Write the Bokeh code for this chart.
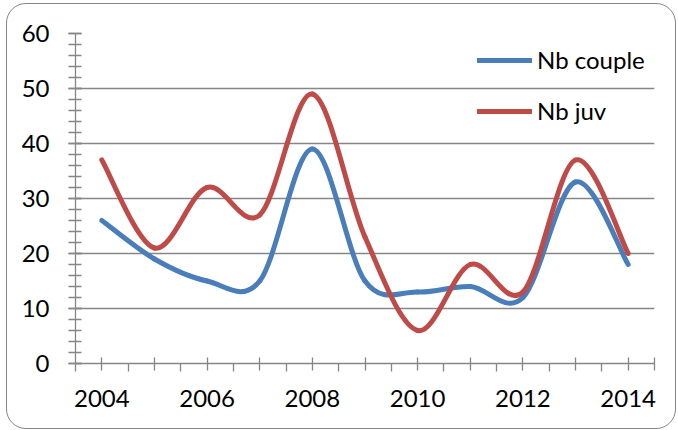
from bokeh.plotting import figure
from bokeh.models import (Range1d, FixedTicker, SingleIntervalTicker, InlineStyleSheet,
                          Legend, LegendItem, ColumnDataSource)
from bokeh.embed import file_html
from bokeh.resources import INLINE

years = [2004, 2005, 2006, 2007, 2008, 2009, 2010, 2011, 2012, 2013, 2014]
nb_couple = [26, 19, 15, 15, 39, 15, 13, 14, 12, 33, 18]
nb_juv = [37, 21, 32, 27, 49, 23, 6, 18, 13, 37, 20]
x_tick_labels = {2004: "2004", 2006: "2006", 2008: "2008", 2010: "2010", 2012: "2012", 2014: "2014"}

BLUE = "#4A7EBB"
RED = "#BE4B48"
GREY = "#868686"
FONT = "Lato"
FS = "24px"


def smooth_segments(xs, ys):
    # cubic Bezier segments (Catmull-Rom style, like a spreadsheet "smoothed line")
    n = len(xs)
    d = dict(x0=[], y0=[], x1=[], y1=[], cx0=[], cy0=[], cx1=[], cy1=[])
    for i in range(n - 1):
        xp, yp = (xs[i - 1], ys[i - 1]) if i > 0 else (xs[i], ys[i])
        xn, yn = (xs[i + 2], ys[i + 2]) if i + 2 < n else (xs[i + 1], ys[i + 1])
        d["x0"].append(xs[i]); d["y0"].append(ys[i])
        d["x1"].append(xs[i + 1]); d["y1"].append(ys[i + 1])
        d["cx0"].append(xs[i] + (xs[i + 1] - xp) / 6.0)
        d["cy0"].append(ys[i] + (ys[i + 1] - yp) / 6.0)
        d["cx1"].append(xs[i + 1] - (xn - xs[i]) / 6.0)
        d["cy1"].append(ys[i + 1] - (yn - ys[i]) / 6.0)
    return ColumnDataSource(d)


p = figure(width=678, height=430, output_backend="svg", toolbar_location=None,
           x_range=Range1d(2003.5, 2014.5), y_range=Range1d(0, 60),
           min_border_left=75, min_border_right=24, min_border_top=33, min_border_bottom=67)
p.outline_line_color = None
p.background_fill_color = "white"
p.border_fill_color = "white"

# rounded chart-area border (CSS overlay on the figure element)
p.stylesheets = [InlineStyleSheet(css="""
:host::after {
  content: "";
  position: absolute;
  left: 6px; top: 3px; width: 670px; height: 426px;
  box-sizing: border-box;
  border: 1.3px solid #868686;
  border-radius: 20px;
  pointer-events: none;
}
""")]

# axes
xa, ya = p.xaxis[0], p.yaxis[0]
for ax in (xa, ya):
    ax.axis_line_color = GREY
    ax.axis_line_width = 1.3
    ax.major_tick_line_color = GREY
    ax.minor_tick_line_color = GREY
    ax.major_tick_line_width = 1.3
    ax.minor_tick_line_width = 1.3
    ax.major_label_text_font = FONT
    ax.major_label_text_font_size = FS
    ax.major_label_text_color = "black"

major_x = years + [2014.5]
minor_x = [y + 0.5 for y in years[:-1]] + [2003.5]
xa.ticker = FixedTicker(ticks=major_x, minor_ticks=minor_x)
xa.major_label_overrides = {y: x_tick_labels.get(y, "") for y in major_x}
xa.major_tick_in = 6
xa.major_tick_out = 7
xa.minor_tick_in = 0
xa.minor_tick_out = 8
xa.major_label_standoff = 18

ya.ticker = SingleIntervalTicker(interval=10, num_minor_ticks=5)
ya.major_tick_in = 6
ya.major_tick_out = 7
ya.minor_tick_in = 6
ya.minor_tick_out = 7
ya.major_label_standoff = 19

p.xgrid.grid_line_color = None
p.ygrid.grid_line_color = GREY
p.ygrid.grid_line_width = 1.3
p.ygrid.ticker = SingleIntervalTicker(interval=10)

# curves
p.bezier("x0", "y0", "x1", "y1", "cx0", "cy0", "cx1", "cy1", source=smooth_segments(years, nb_couple),
         line_color=BLUE, line_width=5, line_cap="round")
p.bezier("x0", "y0", "x1", "y1", "cx0", "cy0", "cx1", "cy1", source=smooth_segments(years, nb_juv),
         line_color=RED, line_width=5, line_cap="round")

# legend samples (single-point lines: invisible on the plot, drawn in the legend)
lb = p.line(x=years[:1], y=nb_couple[:1], line_color=BLUE, line_width=5, line_cap="round")
lr = p.line(x=years[:1], y=nb_juv[:1], line_color=RED, line_width=5, line_cap="round")
legend = Legend(items=[LegendItem(label="Nb couple", renderers=[lb]),
                       LegendItem(label="Nb juv", renderers=[lr])],
                location=(402, 238), padding=0, margin=0, spacing=22,
                glyph_width=55, glyph_height=26, label_height=26, label_standoff=5,
                label_text_font=FONT, label_text_font_size=FS, label_text_color="black",
                border_line_color=None, background_fill_alpha=0)
p.add_layout(legend)

open("out.html", "w").write(file_html(p, INLINE))
